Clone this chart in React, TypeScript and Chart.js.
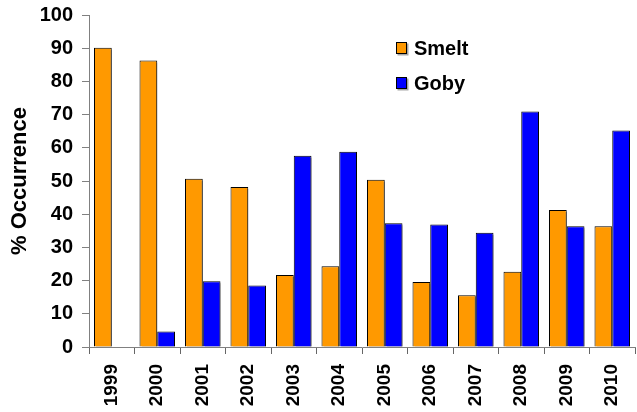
import React, { useEffect, useRef } from "react";
import { Chart, registerables } from "chart.js";

Chart.register(...registerables);

const years = ["1999", "2000", "2001", "2002", "2003", "2004", "2005", "2006", "2007", "2008", "2009", "2010"];
const smelt = [90.1, 86.3, 50.7, 48.2, 21.7, 24.3, 50.4, 19.6, 15.6, 22.7, 41.3, 36.4];
const goby = [null, 4.7, 19.8, 18.5, 57.6, 58.8, 37.3, 36.9, 34.4, 70.9, 36.4, 65.2];
const seriesNames = ["Smelt", "Goby"];
const seriesColors = ["#FF9900", "#0000FF"];
const yTitle = "% Occurrence";

const FONT = "'Liberation Sans', Arial, sans-serif";

const shadowPlugin = {
  id: "barShadow",
  beforeDatasetsDraw(chart: any) {
    const ctx = chart.ctx;
    ctx.save();
    ctx.shadowColor = "rgba(0,0,0,0.35)";
    ctx.shadowOffsetX = 2;
    ctx.shadowOffsetY = 2;
    ctx.shadowBlur = 0;
  },
  afterDatasetsDraw(chart: any) {
    chart.ctx.restore();
  },
};

const legendPlugin = {
  id: "customLegend",
  afterDraw(chart: any) {
    const ctx = chart.ctx;
    const items = chart.data.datasets;
    const x0 = 396;
    const yCenters = [48, 83];
    ctx.save();
    items.forEach((ds: any, i: number) => {
      const yc = yCenters[i];
      ctx.save();
      ctx.shadowColor = "rgba(0,0,0,0.35)";
      ctx.shadowOffsetX = 1.5;
      ctx.shadowOffsetY = 1.5;
      ctx.fillStyle = ds.backgroundColor;
      ctx.fillRect(x0, yc - 6, 11, 12);
      ctx.restore();
      ctx.strokeStyle = "#000";
      ctx.lineWidth = 1;
      ctx.strokeRect(x0 + 0.5, yc - 5.5, 10, 11);
      ctx.fillStyle = "#000";
      ctx.font = `bold 20px ${FONT}`;
      ctx.textBaseline = "middle";
      ctx.textAlign = "left";
      ctx.fillText(ds.label, 414, yc + 1);
    });
    ctx.restore();
  },
};

export default function App() {
  const ref = useRef<HTMLCanvasElement>(null);
  useEffect(() => {
    document.body.style.margin = "0";
    const chart = new Chart(ref.current!, {
      type: "bar",
      data: {
        labels: years,
        datasets: [
          { label: seriesNames[0], data: smelt, backgroundColor: seriesColors[0], borderColor: "#000", borderWidth: 1 },
          { label: seriesNames[1], data: goby as any, backgroundColor: seriesColors[1], borderColor: "#000", borderWidth: 1 },
        ],
      },
      options: {
        animation: false,
        responsive: true,
        maintainAspectRatio: false,
        layout: { padding: { top: 15, right: 2, left: 0, bottom: 0 } },
        datasets: { bar: { categoryPercentage: 0.78, barPercentage: 1.0 } },
        plugins: { legend: { display: false }, tooltip: { enabled: false } },
        scales: {
          x: {
            afterFit: (s: any) => { s.height = 65; s.paddingLeft = 0; s.paddingRight = 0; },
            grid: { display: true, drawOnChartArea: false, drawTicks: true, tickLength: 7, color: "#666", offset: true },
            border: { display: true, color: "#808080", width: 1 },
            ticks: {
              minRotation: 90,
              maxRotation: 90,
              padding: 10,
              color: "#000",
              font: { family: FONT, size: 19, weight: "bold" },
            },
          },
          y: {
            min: 0,
            max: 100,
            afterFit: (s: any) => { s.width = 89; s.paddingTop = 0; s.paddingBottom = 0; },
            grid: { display: true, drawOnChartArea: false, drawTicks: true, tickLength: 7, color: "#808080" },
            border: { display: true, color: "#808080", width: 1 },
            ticks: {
              stepSize: 10,
              padding: 9,
              color: "#000",
              font: { family: FONT, size: 20, weight: "bold" },
            },
            title: {
              display: true,
              text: yTitle,
              color: "#000",
              padding: { top: 7, bottom: 0 },
              font: { family: FONT, size: 22, weight: "bold" },
            },
          },
        },
      },
      plugins: [shadowPlugin, legendPlugin],
    });
    return () => chart.destroy();
  }, []);
  return (
    <div style={{ width: 637, height: 412, position: "relative" }}>
      <canvas ref={ref} />
    </div>
  );
}
